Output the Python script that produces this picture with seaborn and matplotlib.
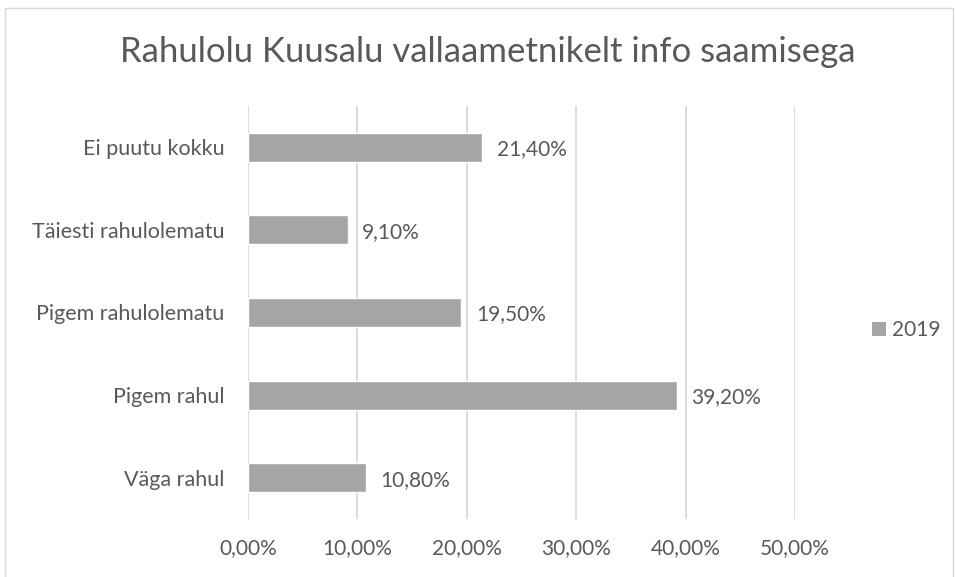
import matplotlib
matplotlib.use("Agg")
import matplotlib.pyplot as plt
import seaborn as sns
import pandas as pd
from matplotlib.patches import Rectangle

categories = ["Ei puutu kokku", "Täiesti rahulolematu", "Pigem rahulolematu", "Pigem rahul", "Väga rahul"]
values = [21.4, 9.1, 19.5, 39.2, 10.8]
value_labels = ["21,40%", "9,10%", "19,50%", "39,20%", "10,80%"]
xticks = [0, 10, 20, 30, 40, 50]
xtick_labels = ["0,00%", "10,00%", "20,00%", "30,00%", "40,00%", "50,00%"]
series_name = "2019"
title = "Rahulolu Kuusalu vallaametnikelt info saamisega"

sns.set_theme(style="white")
plt.rcParams['font.family'] = ['Lato', 'DejaVu Sans']

txt = "#595959"
bar_color = "#A5A5A5"
grid = "#D9D9D9"
fs = 15

fig = plt.figure(figsize=(9.55, 5.77), dpi=100)
ax = fig.add_axes([248/955, 1-519/577, (795-248)/955, (519-106)/577])

df = pd.DataFrame({"cat": categories, "val": values})
sns.barplot(data=df, y="cat", x="val", orient="h", color=bar_color, width=0.35,
            saturation=1, ax=ax, order=categories)

ax.set_xlim(0, 50)
ax.set_xticks(xticks)
ax.set_xticklabels(xtick_labels, color=txt, fontsize=fs)
ax.tick_params(axis="x", length=0, pad=14)
ax.tick_params(axis="y", length=0, pad=17, labelsize=15.5, labelcolor=txt)
ax.set_xlabel("")
ax.set_ylabel("")
for s in ax.spines.values():
    s.set_visible(False)
ax.xaxis.grid(True, color=grid, linewidth=1.3)
ax.set_axisbelow(True)

for i, (v, lab) in enumerate(zip(values, value_labels)):
    ax.annotate(lab, xy=(v, i), xytext=(10.5, 0), textcoords="offset points",
                va="center_baseline", ha="left", fontsize=fs, color=txt)

fig.text(488/955, 1-52/577, title, ha="center", va="center", fontsize=25, color=txt)

# legend
fig.patches.append(Rectangle((872/955, 1-335.5/577), 13.5/955, 13.5/577, transform=fig.transFigure,
                             facecolor=bar_color, edgecolor="none"))
fig.text(892/955, 1-328/577, series_name, ha="left", va="center_baseline", fontsize=fs, color=txt)

# outer border
fig.patches.append(Rectangle((4.5/955, -0.01), 948/955, 1-7.5/577 + 0.01, transform=fig.transFigure,
                             facecolor="none", edgecolor="#D9D9D9", linewidth=1))

fig.savefig("out.png", dpi=100)
